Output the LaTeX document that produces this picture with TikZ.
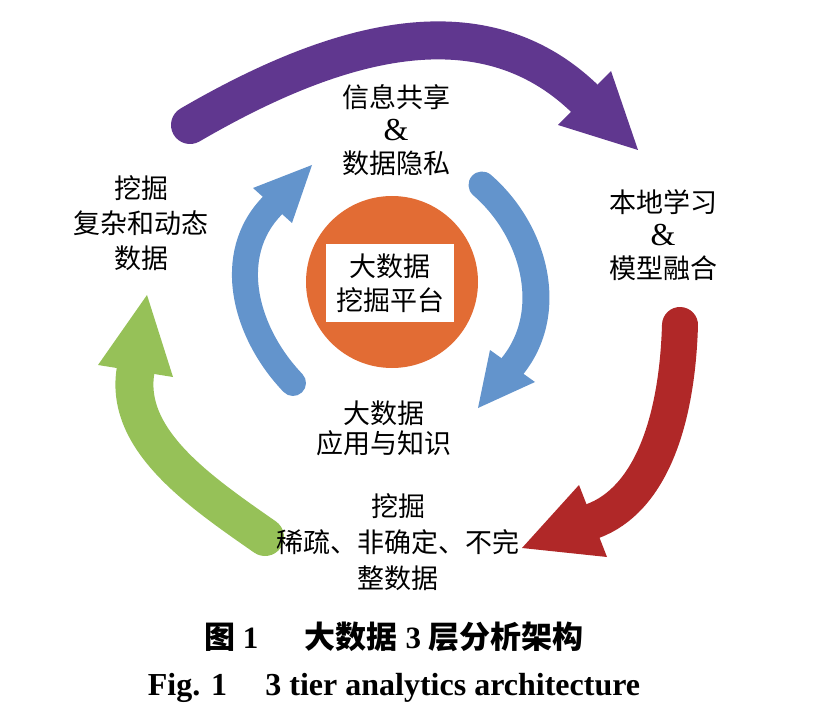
\documentclass[tikz,border=0pt]{standalone}
\usepackage{fontspec}
\setmainfont{Liberation Serif}
\newfontfamily\cjk{Noto Sans CJK SC}
\definecolor{purplec}{RGB}{96,55,143}
\definecolor{bluec}{RGB}{99,148,204}
\definecolor{orangec}{RGB}{226,108,52}
\definecolor{redc}{RGB}{176,40,40}
\definecolor{greenc}{RGB}{150,193,88}
\newcommand{\amp}{{\fontsize{32}{33}\selectfont\rmfamily\&}}
\begin{document}
\begin{tikzpicture}[x=1pt,y=-1pt,
  lbl/.style={align=center, inner sep=0pt, font=\fontsize{27}{33}\selectfont\cjk},
  band/.style={line width=#1, line cap=round},
  corebox/.style={fill=white, inner sep=0pt, minimum width=128, minimum height=78, align=center, font=\fontsize{27}{34}\selectfont\cjk}]
\useasboundingbox (0,0) rectangle (817,714);
% outer arrows
\draw[purplec, band=38] (190,125) .. controls (330,43.5) and (478.5,-3) .. (584,98);
\fill[purplec] (638,150) -- (611,71) -- (558,125) -- cycle;
\draw[redc, band=36] (680,325) .. controls (677,425) and (649,500) .. (593,521);
\fill[redc] (522,548) -- (579,485) -- (607,557) -- cycle;
\draw[greenc, band=38] (265,537) .. controls (199,491) and (124.5,440) .. (135.5,371);
\fill[greenc] (147,295) -- (98,365) -- (173,377) -- cycle;
% inner arrows
\draw[bluec, band=26] (293,383) .. controls (245,333) and (224,255) .. (272.5,205.5);
\fill[bluec] (312,165) -- (253,188) -- (292,223) -- cycle;
\draw[bluec, band=27] (482,185) .. controls (535,231) and (556,312) .. (512.5,366);
\fill[bluec] (478,408) -- (535,382) -- (490,350) -- cycle;
% core
\fill[orangec] (392,282) circle (86);
\node[corebox] (core) at (390,283) {大数据\\挖掘平台};
% labels
\node[lbl] (share) at (396,130.5) {信息共享\\\amp\\数据隐私};
\node[lbl] (local) at (663,235.5) {本地学习\\\amp\\模型融合};
\node[lbl, font=\fontsize{27}{35}\selectfont\cjk] (complex) at (141,223) {挖掘\\复杂和动态\\数据};
\node[lbl, font=\fontsize{27}{30}\selectfont\cjk] (app) at (384,428) {大数据\\应用与知识};
\node[lbl, font=\fontsize{27}{36}\selectfont\cjk] (sparse) at (398,542) {挖掘\\稀疏、非确定、不完\\整数据};
% captions
\node[inner sep=0pt, font=\fontsize{31}{34}\selectfont\bfseries] (capzh) at (394,637)
  {{\cjk 图} 1\hspace{1.5em}{\cjk 大数据} 3 {\cjk 层分析架构}};
\node[inner sep=0pt, font=\fontsize{32}{36}\selectfont\bfseries] (capen) at (394,688)
  {Fig. 1\hspace{1.2em}3 tier analytics architecture};
\end{tikzpicture}
\end{document}
